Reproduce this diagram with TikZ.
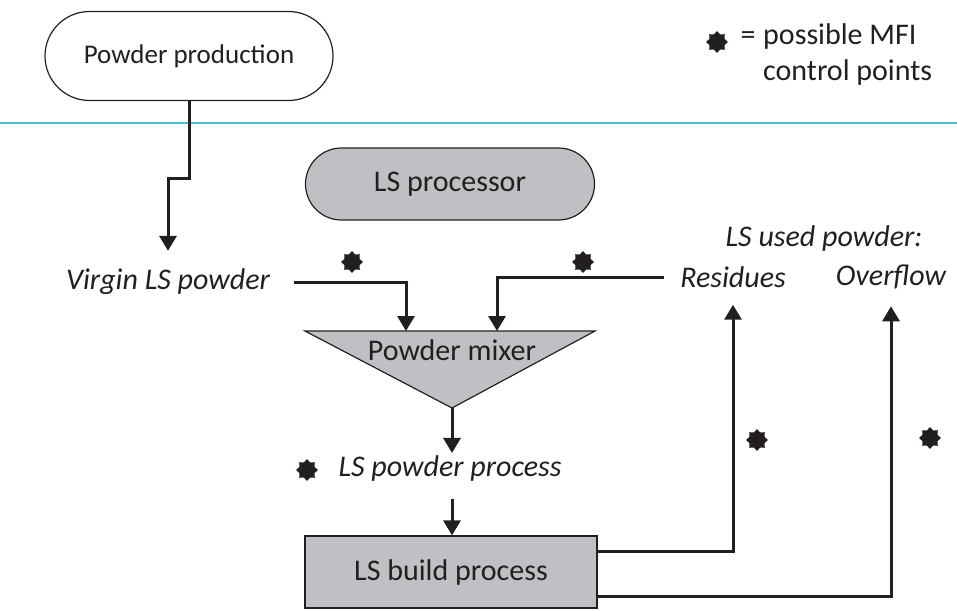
\documentclass[tikz,border=0pt]{standalone}
\usepackage{fontspec}
\setmainfont{Carlito}
\usetikzlibrary{arrows.meta,shapes.geometric,shapes.misc,positioning}

\definecolor{ink}{RGB}{35,31,32}
\definecolor{boxgray}{RGB}{192,192,196}
\definecolor{teal}{RGB}{70,192,204}

\tikzset{
  txt/.style={font=\fontsize{30}{35}\selectfont, text=ink, inner sep=2pt},
  lbl/.style={txt, font=\fontsize{30}{35}\selectfont\itshape},
  stadium/.style={txt, rounded rectangle, draw=ink, line width=1.2pt},
  procbox/.style={txt, rectangle, draw=ink, line width=1.2pt, fill=boxgray},
  link/.style={draw=ink, line width=3pt},
  flow/.style={link, -{Triangle[width=17pt,length=15pt]}},
  ctrl/.style={star, star points=8, star point ratio=1.35, fill=ink, inner sep=0pt, minimum size=22pt}
}

\begin{document}
\begin{tikzpicture}[x=1pt, y=-1pt]
  \useasboundingbox (0,0) rectangle (957,610);

  % Boundary line
  \draw[teal, line width=2pt] (0,123) -- (957,123);

  % Boxes
  \node[stadium, fill=white, font=\fontsize{27}{32}\selectfont, minimum width=292pt, minimum height=89pt] (pp) at (189,56) {Powder production};
  \node[stadium, fill=boxgray, minimum width=293pt, minimum height=72pt] (proc) at (450,184) {LS processor};
  \node[procbox, minimum width=292pt, minimum height=72pt] (build) at (451,572) {LS build process};

  % Mixer
  \coordinate (mixL) at (305,331);
  \coordinate (mixR) at (595,331);
  \coordinate (mixA) at (452,408);
  \filldraw[fill=boxgray, draw=ink, line width=1.2pt] (mixL) -- (mixR) -- (mixA) -- cycle;
  \node[txt] (mix) at (452,350) {Powder mixer};
  \coordinate (mixin1) at (406,331);
  \coordinate (mixin2) at (497,331);

  % Labels
  \node[lbl] (virgin) at (168,282) {Virgin LS powder};
  \node[lbl] (used) at (824,238) {LS used powder:};
  \node[lbl] (res) at (733,277) {Residues};
  \node[lbl] (ovf) at (891,277) {Overflow};
  \node[lbl] (lspp) at (450,468) {LS powder process};

  % Legend
  \node[txt, anchor=base] (eq) at (748,45) {=};
  \node[txt, anchor=base west] (leg1) at (761,45) {possible MFI};
  \node[txt, anchor=base west] (leg2) at (761,80) {control points};

  % Flows
  \draw[flow] (pp.south) -- ++(0,77) -| ([yshift=16pt]virgin.north);
  \draw[flow] ([xshift=22pt]virgin.east) -| (mixin1);
  \draw[flow] ([xshift=-14pt]res.west) -| (mixin2);
  \draw[flow] (mixA) -- (lspp.north -| mixA);
  \draw[flow] ([yshift=-16pt]lspp.south -| mixA) -- (build.north -| mixA);
  \draw[flow] ([yshift=21pt]build.east) -| ([yshift=-15pt]res.south);
  \draw[flow] ([yshift=-24pt]build.east) -| ([yshift=-15pt]ovf.south);

  % MFI control points
  \foreach \p [count=\i] in {{352,262},{583,262},{307,470},{757,440},{930,438},{717,42}}
    \node[ctrl] (cp\i) at (\p) {};
\end{tikzpicture}
\end{document}
